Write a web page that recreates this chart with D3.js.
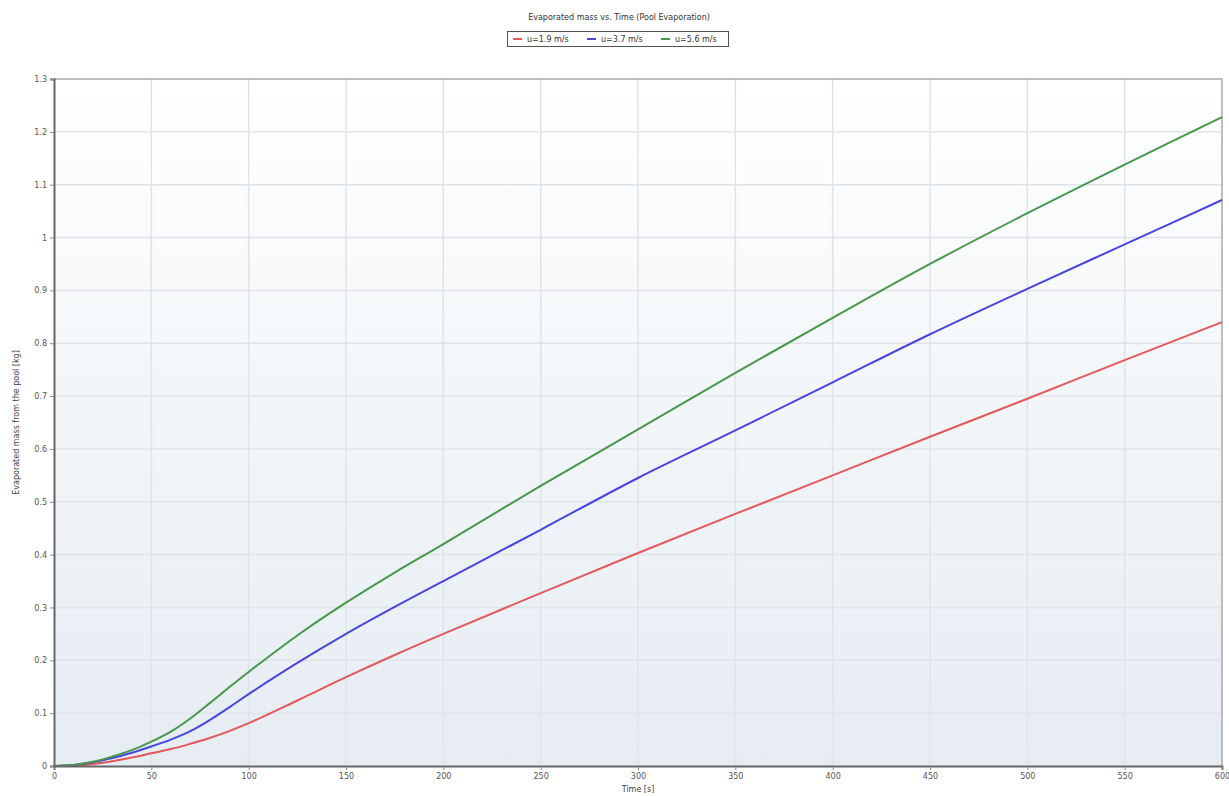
<!DOCTYPE html>
<html>
<head>
<meta charset="utf-8">
<script src="https://cdn.jsdelivr.net/npm/d3@7/dist/d3.min.js"></script>
<style>
  html, body { margin: 0; padding: 0; background: #ffffff; }
  svg { display: block; font-family: "DejaVu Sans", Verdana, sans-serif; }
</style>
</head>
<body>
<svg id="chart" width="1229" height="796"></svg>
<script>
// Time samples [s]
const times = [0, 10, 20, 30, 40, 50, 60, 70, 80, 90, 100, 125, 150, 175, 200, 250, 300, 350, 400, 450, 500, 550, 600];

// Evaporated mass from the pool [kg] for each wind speed
const massU19 = [0, 0.001, 0.004, 0.009, 0.016, 0.024, 0.032, 0.042, 0.053, 0.066, 0.081, 0.124, 0.168, 0.210, 0.250, 0.327, 0.403, 0.477, 0.550, 0.623, 0.695, 0.768, 0.840];
const massU37 = [0, 0.002, 0.007, 0.015, 0.025, 0.037, 0.050, 0.066, 0.087, 0.111, 0.136, 0.195, 0.250, 0.301, 0.350, 0.447, 0.545, 0.635, 0.726, 0.817, 0.903, 0.987, 1.071];
const massU56 = [0, 0.002, 0.008, 0.018, 0.030, 0.046, 0.065, 0.090, 0.119, 0.149, 0.178, 0.247, 0.309, 0.366, 0.420, 0.530, 0.637, 0.744, 0.848, 0.950, 1.046, 1.138, 1.228];

const seriesNames = ["u=1.9 m/s", "u=3.7 m/s", "u=5.6 m/s"];
const seriesColors = ["#e4575a", "#4646e0", "#46984a"];

const xTicks = [0, 50, 100, 150, 200, 250, 300, 350, 400, 450, 500, 550, 600];
const yTicks = [0, 0.1, 0.2, 0.3, 0.4, 0.5, 0.6, 0.7, 0.8, 0.9, 1, 1.1, 1.2, 1.3];

const titleText = "Evaporated mass vs. Time (Pool Evaporation)";
const xLabel = "Time [s]";
const yLabel = "Evaporated mass from the pool [kg]";

const series = [massU19, massU37, massU56].map((vals, i) => ({
  name: seriesNames[i],
  color: seriesColors[i],
  points: times.map((t, j) => ({ t, m: vals[j] }))
}));

const FONT = "DejaVu Sans, Verdana, sans-serif";
const svg = d3.select("#chart");
const plot = { left: 54, right: 1222, top: 79, bottom: 766 };

const x = d3.scaleLinear().domain([0, 600]).range([plot.left, plot.right]);
const y = d3.scaleLinear().domain([0, 1.3]).range([plot.bottom, plot.top]);

// Plot background: soft vertical gradient
const defs = svg.append("defs");
const grad = defs.append("linearGradient").attr("id", "bg").attr("x1", 0).attr("y1", 0).attr("x2", 0).attr("y2", 1);
grad.append("stop").attr("offset", "0%").attr("stop-color", "#ffffff");
grad.append("stop").attr("offset", "100%").attr("stop-color", "#e5ecf2");

svg.append("rect")
  .attr("x", plot.left).attr("y", plot.top)
  .attr("width", plot.right - plot.left).attr("height", plot.bottom - plot.top)
  .attr("fill", "url(#bg)");

// Grid lines
const grid = svg.append("g").attr("stroke", "#e0e4e8").attr("stroke-width", 1.5);
grid.selectAll("line.v").data(xTicks.slice(1, -1)).join("line")
  .attr("x1", d => x(d)).attr("x2", d => x(d))
  .attr("y1", plot.top).attr("y2", plot.bottom);
grid.selectAll("line.h").data(yTicks.slice(1, -1)).join("line")
  .attr("x1", plot.left).attr("x2", plot.right)
  .attr("y1", d => y(d)).attr("y2", d => y(d));

// Frame (top and right)
svg.append("line").attr("x1", plot.left).attr("x2", plot.right).attr("y1", plot.top).attr("y2", plot.top)
  .attr("stroke", "#a8a8a8").attr("stroke-width", 1.5);
svg.append("line").attr("x1", plot.right).attr("x2", plot.right).attr("y1", plot.top).attr("y2", plot.bottom)
  .attr("stroke", "#a8a8a8").attr("stroke-width", 1.5);

// Series lines
const line = d3.line().x(d => x(d.t)).y(d => y(d.m)).curve(d3.curveCatmullRom.alpha(0.5));
svg.append("g").selectAll("path").data(series).join("path")
  .attr("d", d => line(d.points))
  .attr("fill", "none")
  .attr("stroke", d => d.color)
  .attr("stroke-width", 2);

// Axes
const xAxis = d3.axisBottom(x).tickValues(xTicks).tickFormat(d3.format("d")).tickSize(4).tickPadding(3);
const yAxis = d3.axisLeft(y).tickValues(yTicks).tickFormat(d => String(+d.toFixed(1))).tickSize(4).tickPadding(3);

const gx = svg.append("g").attr("transform", `translate(0,${plot.bottom})`).call(xAxis);
const gy = svg.append("g").attr("transform", `translate(${plot.left},0)`).call(yAxis);

[gx, gy].forEach(g => {
  g.select(".domain").attr("stroke", "#666").attr("stroke-width", 2);
  g.selectAll(".tick line").attr("stroke", "#888");
  g.selectAll(".tick text").attr("fill", "#555").attr("font-size", 8).attr("font-family", FONT);
});

// Axis titles
svg.append("text")
  .attr("x", (plot.left + plot.right) / 2).attr("y", 792)
  .attr("text-anchor", "middle").attr("font-size", 8).attr("fill", "#444")
  .text(xLabel);

svg.append("text")
  .attr("transform", `translate(19,${(plot.top + plot.bottom) / 2}) rotate(-90)`)
  .attr("text-anchor", "middle").attr("font-size", 8).attr("fill", "#444")
  .text(yLabel);

// Title
svg.append("text")
  .attr("x", 619).attr("y", 20)
  .attr("text-anchor", "middle").attr("font-size", 8).attr("fill", "#333")
  .text(titleText);

// Legend
const legend = svg.append("g");
legend.append("rect")
  .attr("x", 507.5).attr("y", 31.5).attr("width", 221).attr("height", 15)
  .attr("fill", "#ffffff").attr("stroke", "#555").attr("stroke-width", 1);

const legendX = [513, 587, 661];
const items = legend.selectAll("g.item").data(series).join("g")
  .attr("transform", (d, i) => `translate(${legendX[i]},39)`);
items.append("line")
  .attr("x1", 0).attr("x2", 9).attr("y1", 0).attr("y2", 0)
  .attr("stroke", d => d.color).attr("stroke-width", 2);
items.append("text")
  .attr("x", 14).attr("y", 3)
  .attr("font-size", 8).attr("fill", "#333")
  .text(d => d.name);
</script>
</body>
</html>
